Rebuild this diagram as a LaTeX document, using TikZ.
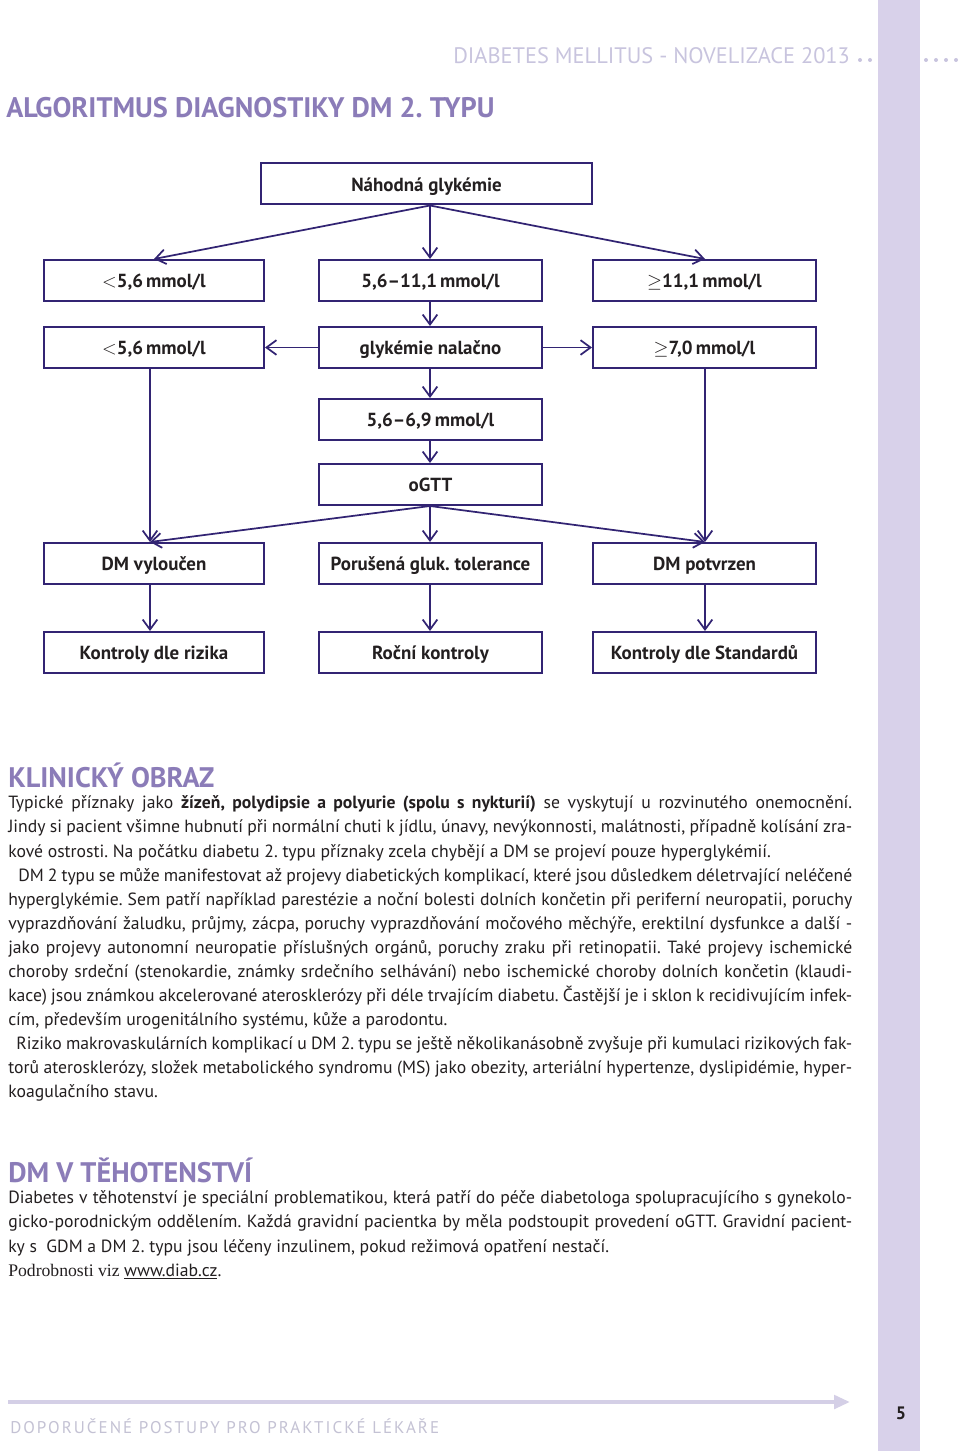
\documentclass[tikz,border=0pt]{standalone}
\usepackage{fontspec}
\setmainfont{PT Sans}
\newfontfamily\serifft{Liberation Serif}
\usetikzlibrary{arrows.meta}
\definecolor{navy}{RGB}{50,36,115}
\definecolor{headpurple}{RGB}{139,124,184}
\definecolor{headgrey}{RGB}{200,196,222}
\definecolor{lavcol}{RGB}{216,209,234}
\definecolor{footline}{RGB}{212,207,230}
\definecolor{foottext}{RGB}{196,194,212}
\definecolor{bodytext}{RGB}{35,31,32}
\frenchspacing
\tikzset{
  box/.style={draw=navy, line width=1.5pt, fill=white, minimum height=30.75pt, inner sep=0pt,
    text height=11.5pt, text depth=0.3pt,
    font=\bfseries\fontsize{14.2}{16}\selectfont, text=bodytext},
  wbox/.style={box, minimum width=165pt},
  mbox/.style={box, minimum width=167.25pt},
  arr/.style={draw=navy, line width=1.3pt, -{Straight Barb[length=7.5pt,width=11pt,line width=1.3pt]}},
  bodyline/.style={anchor=base west, inner sep=0pt, text=bodytext, font=\fontsize{13.25}{15}\selectfont},
  heading/.style={anchor=base west, inner sep=0pt, text=headpurple, font=\bfseries\fontsize{21.2}{25}\selectfont},
}
\begin{document}
\begin{tikzpicture}[x=0.75pt,y=-0.75pt]
\useasboundingbox (0,0) rectangle (960,1451);
\fill[white] (0,0) rectangle (960,1451);
\fill[lavcol] (878,0) rectangle (920,1451);

% header
\node[anchor=base west, inner sep=0pt, text=headgrey, font=\fontsize{16.8}{19}\selectfont] (hdr) at (453,64) {DIABETES MELLITUS - NOVELIZACE 2013};
\foreach \xx in {860,870,926,936,946,956} \fill[headgrey] (\xx,60) circle (2);
\node[heading] (title) at (6,118) {ALGORITMUS DIAGNOSTIKY DM 2. TYPU};

% flowchart
\coordinate (xL) at (150,0);
\coordinate (xM) at (430,0);
\coordinate (xR) at (705,0);

\node[box, minimum width=248.25pt] (n1) at (426.5,184) {Náhodná glykémie};

\node[wbox] (a1) at (154,280.5) {{\mdseries$<$}5,6\,mmol/l};
\node[mbox] (a2) at (430.5,280.5) {5,6–11,1\,mmol/l};
\node[mbox] (a3) at (704.5,280.5) {{\mdseries$\geq$}11,1\,mmol/l};

\node[wbox] (b1) at (154,347.5) {{\mdseries$<$}5,6\,mmol/l};
\node[mbox] (b2) at (430.5,347.5) {glykémie nalačno};
\node[mbox] (b3) at (704.5,347.5) {{\mdseries$\geq$}7,0\,mmol/l};

\node[mbox] (c2) at (430.5,419.5) {5,6–6,9\,mmol/l};
\node[mbox] (d2) at (430.5,484.5) {oGTT};

\node[wbox] (e1) at (154,563.5) {DM vyloučen};
\node[mbox] (e2) at (430.5,563.5) {Porušená gluk. tolerance};
\node[mbox] (e3) at (704.5,563.5) {DM potvrzen};

\node[wbox] (f1) at (154,652.5) {Kontroly dle rizika};
\node[mbox] (f2) at (430.5,652.5) {Roční kontroly};
\node[mbox] (f3) at (704.5,652.5) {Kontroly dle Standardů};

\draw[arr] (n1.south -| xM) -- (a1.north);
\draw[arr] (n1.south -| xM) -- (a2.north -| xM);
\draw[arr] (n1.south -| xM) -- (a3.north -| xR);
\draw[arr] (a2.south -| xM) -- (b2.north -| xM);
\draw[arr] (b2.west) -- (b1.east);
\draw[arr] (b2.east) -- (b3.west);
\draw[arr] (b2.south -| xM) -- (c2.north -| xM);
\draw[arr] (c2.south -| xM) -- (d2.north -| xM);
\draw[arr] (b1.south -| xL) -- (e1.north -| xL);
\draw[arr] (b3.south -| xR) -- (e3.north -| xR);
\draw[arr] (d2.south -| xM) -- (e1.north -| xL);
\draw[arr] (d2.south -| xM) -- (e2.north -| xM);
\draw[arr] (d2.south -| xM) -- (e3.north -| xR);
\draw[arr] (e1.south -| xL) -- (f1.north -| xL);
\draw[arr] (e2.south -| xM) -- (f2.north -| xM);
\draw[arr] (e3.south -| xR) -- (f3.north -| xR);

% Klinický obraz
\node[heading] (h2) at (8,787) {KLINICKÝ OBRAZ};
\node[bodyline] (t1) at (8,808) {\makebox[633pt][s]{Typické příznaky jako \textbf{žízeň, polydipsie a polyurie (spolu s nykturií)} se vyskytují u rozvinutého onemocnění.}};
\node[bodyline] (t2) at (8,832) {\makebox[633pt][s]{Jindy si pacient všimne hubnutí při normální chuti k jídlu, únavy, nevýkonnosti, malátnosti, případně kolísání zra-}};
\node[bodyline] (t3) at (8,857) {kové ostrosti. Na počátku diabetu 2. typu příznaky zcela chybějí a DM se projeví pouze hyperglykémií.};
\node[bodyline] (t4) at (18,881) {\makebox[625.5pt][s]{DM 2 typu se může manifestovat až projevy diabetických komplikací, které jsou důsledkem déletrvající neléčené}};
\node[bodyline] (t5) at (8,905) {\makebox[633pt][s]{hyperglykémie. Sem patří například parestézie a noční bolesti dolních končetin při periferní neuropatii, poruchy}};
\node[bodyline] (t6) at (8,929) {\makebox[633pt][s]{vyprazdňování žaludku, průjmy, zácpa, poruchy vyprazdňování močového měchýře, erektilní dysfunkce a další -}};
\node[bodyline] (t7) at (8,953) {\makebox[633pt][s]{jako projevy autonomní neuropatie příslušných orgánů, poruchy zraku při retinopatii. Také projevy ischemické}};
\node[bodyline] (t8) at (8,977) {\makebox[633pt][s]{choroby srdeční (stenokardie, známky srdečního selhávání) nebo ischemické choroby dolních končetin (klaudi-}};
\node[bodyline] (t9) at (8,1001) {\makebox[633pt][s]{kace) jsou známkou akcelerované aterosklerózy při déle trvajícím diabetu. Častější je i sklon k recidivujícím infek-}};
\node[bodyline] (t10) at (8,1025) {cím, především urogenitálního systému, kůže a parodontu.};
\node[bodyline] (t11) at (16,1049) {\makebox[627pt][s]{Riziko makrovaskulárních komplikací u DM 2. typu se ještě několikanásobně zvyšuje při kumulaci rizikových fak-}};
\node[bodyline] (t12) at (8,1073) {\makebox[633pt][s]{torů aterosklerózy, složek metabolického syndromu (MS) jako obezity, arteriální hypertenze, dyslipidémie, hyper-}};
\node[bodyline] (t13) at (8,1097) {koagulačního stavu.};

% DM v těhotenství
\node[heading] (h3) at (8,1182) {DM V TĚHOTENSTVÍ};
\node[bodyline] (u1) at (8,1203) {\makebox[633pt][s]{Diabetes v těhotenství je speciální problematikou, která patří do péče diabetologa spolupracujícího s gynekolo-}};
\node[bodyline] (u2) at (8,1227) {\makebox[633pt][s]{gicko-porodnickým oddělením. Každá gravidní pacientka by měla podstoupit provedení oGTT. Gravidní pacient-}};
\node[bodyline] (u3) at (8,1252) {ky s\ \ GDM a DM 2. typu jsou léčeny inzulinem, pokud režimová opatření nestačí.};
\node[bodyline] (u4) at (8,1276) {{\serifft Podrobnosti viz }\underline{www.diab.cz}{\serifft .}};

% footer
\draw[footline, line width=3pt, -{Triangle[length=12pt,width=10pt]}] (8,1402) coordinate (fl0) -- (850,1402) coordinate (fl1);
\node[anchor=base west, inner sep=0pt, text=foottext, font=\fontsize{12.7}{15}\selectfont\addfontfeature{LetterSpace=12}] (ft) at (10,1433) {DOPORUČENÉ POSTUPY PRO PRAKTICKÉ LÉKAŘE};
\node[anchor=base, inner sep=0pt, text=bodytext, font=\bfseries\fontsize{13.5}{16}\selectfont] (pg) at (901,1419) {5};
\end{tikzpicture}
\end{document}
